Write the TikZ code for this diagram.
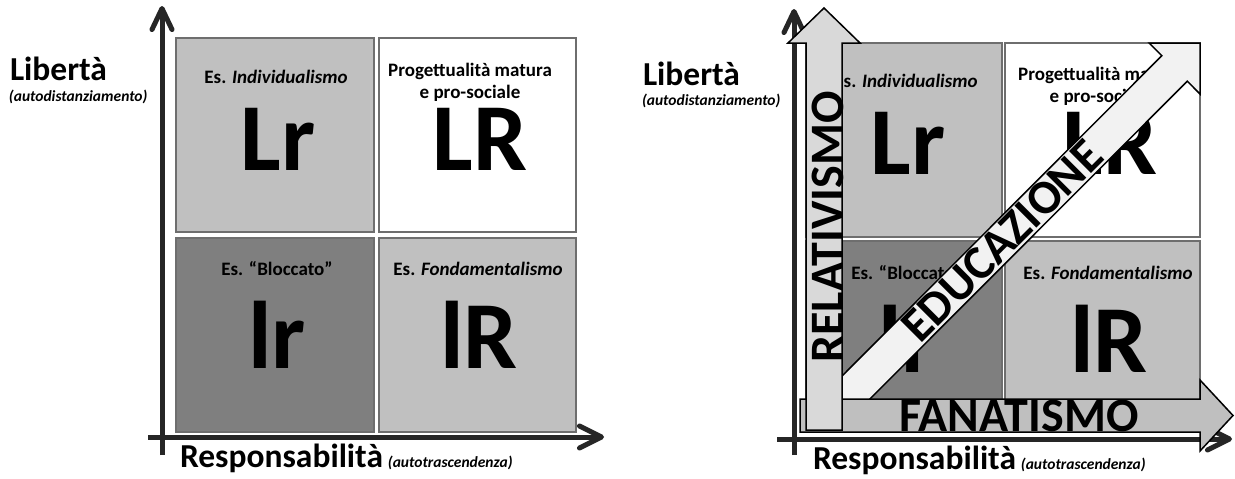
\documentclass[tikz,border=0pt]{standalone}
\usepackage{fontspec}
\setmainfont{Carlito}
\usetikzlibrary{arrows.meta}
\definecolor{boxlight}{HTML}{C0C0C0}
\definecolor{boxdark}{HTML}{7F7F7F}
\definecolor{boxline}{HTML}{6E6E6E}
\definecolor{axiscol}{HTML}{262626}
\definecolor{relfill}{HTML}{D9D9D9}
\definecolor{fanfill}{HTML}{BFBFBF}
\definecolor{edufill}{HTML}{F2F2F2}
\newcommand{\setfs}[1]{\fontsize{#1}{#1}\selectfont}
\begin{document}
\begin{tikzpicture}[x=1pt,y=-1pt,
  every node/.append style={font=\bfseries, inner sep=0pt, outer sep=0pt},
  quad/.style={draw=boxline, line width=2pt, minimum width=#1, minimum height=194pt},
  axisv/.style={draw=axiscol, line width=5pt, -{Straight Barb[length=21pt,width=20pt,round]}},
  axish/.style={draw=axiscol, line width=5pt, -{Straight Barb[length=22pt,width=22pt,round]}},
  blockarrow/.style={draw=black, line width=1.5pt, line join=miter},
  small/.style={anchor=base, font=\bfseries\setfs{19}},
  big/.style={anchor=base, font=\bfseries\setfs{96}},
  arrowtext/.style={font=\bfseries\setfs{48}},
  axlabel/.style={anchor=base west, font=\bfseries\setfs{33.5}},
  axsub/.style={anchor=base west, font=\bfseries\itshape\setfs{15.5}}
]
\useasboundingbox (0,0) rectangle (1235,479);
\fill[white] (0,0) rectangle (1235,479);

% ================= LEFT PANEL =================
\node[quad=198pt, fill=boxlight] (lTL) at (275,135) {};
\node[quad=197pt, fill=white]    (lTR) at (477,135) {};
\node[quad=198pt, fill=boxdark]  (lBL) at (275,335) {};
\node[quad=197pt, fill=boxlight] (lBR) at (477,335) {};

\node[small] (lTLt) at (276,83) {Es. \itshape Individualismo};
\node[big]   (lTLb) at (278,170) {Lr};
\node[small] (lTRt) at (470,76) {Progettualità matura};
\node[small] (lTRu) at (470,98) {e pro-sociale};
\node[big]   (lTRb) at (480,170) {LR};
\node[small] (lBLt) at (277,275) {Es. “Bloccato”};
\node[big]   (lBLb) at (277,368) {lr};
\node[small] (lBRt) at (478,275) {Es. \itshape Fondamentalismo};
\node[big]   (lBRb) at (479,368) {lR};

\coordinate (lvb) at (162,455);
\coordinate (lvt) at (162,6);
\coordinate (lhl) at (148,437);
\coordinate (lhr) at (604,437);
\draw[axisv] (lvb) -- (lvt);
\draw[axish] (lhl) -- (lhr);

\node[axlabel] (lLib) at (10,80) {Libertà};
\node[axsub] (lAut) at (9,101) {(autodistanziamento)};
\node[axlabel] (lRes) at (180,467) {Responsabilità\hspace{5pt}{\itshape\setfs{15.5}(autotrascendenza)}};

% ================= RIGHT PANEL =================
\node[quad=196pt, fill=boxlight] (rTL) at (904,140) {};
\node[quad=195pt, fill=white]    (rTR) at (1102.5,140) {};
\node[quad=196pt, fill=boxdark, minimum height=191pt] (rBL) at (904,336.5) {};
\node[quad=195pt, fill=boxlight, minimum height=191pt] (rBR) at (1102.5,336.5) {};

\node[small] (rTLt) at (906,87) {Es. \itshape Individualismo};
\node[big]   (rTLb) at (908,174) {Lr};
\node[small] (rTRt) at (1100,80) {Progettualità matura};
\node[small] (rTRu) at (1100,102) {e pro-sociale};
\node[big]   (rTRb) at (1110,174) {LR};
\node[small] (rBLt) at (907,279) {Es. “Bloccato”};
\node[big]   (rBLb) at (907,372) {lr};
\node[small] (rBRt) at (1108,279) {Es. \itshape Fondamentalismo};
\node[big]   (rBRb) at (1109,372) {lR};

% EDUCAZIONE arrow (diagonal)
\fill[edufill] (817.3,400.8) -- (1161.8,55.7) -- (1149.1,43.0) -- (1200,43) -- (1200,94) -- (1187.3,81.2) -- (842.7,426.2) -- cycle;
\draw[blockarrow] (817.3,400.8) -- (1161.8,55.7) -- (1149.1,43.0) -- (1200,43) -- (1200,94) -- (1187.3,81.2) -- (842.7,426.2);
\node[arrowtext, rotate=45] (edu) at (1002,241) {EDUCAZIONE};

% axes
\coordinate (rvb) at (794,455);
\coordinate (rvt) at (794,9);
\coordinate (rhl) at (777,439);
\coordinate (rhr) at (1232,439);
\draw[axisv] (rvb) -- (rvt);
\draw[axish] (rhl) -- (rhr);

% FANATISMO arrow
\draw[blockarrow, fill=fanfill] (800,399) -- (1200,399) -- (1200,380) -- (1233,415.5) -- (1200,451) -- (1200,432) -- (800,432) -- cycle;
\node[arrowtext] (fan) at (1019,416) {FANATISMO};

% RELATIVISMO arrow
\draw[blockarrow, fill=relfill] (806,430) -- (806,43) -- (788,43) -- (824,8) -- (860,43) -- (842,43) -- (842,430) -- cycle;
\node[arrowtext, rotate=90] (rel) at (828,227) {RELATIVISMO};

\node[axlabel] (rLib) at (643,85) {Libertà};
\node[axsub] (rAut) at (642,105) {(autodistanziamento)};
\node[axlabel] (rRes) at (813,469) {Responsabilità\hspace{5pt}{\itshape\setfs{15.5}(autotrascendenza)}};
\end{tikzpicture}
\end{document}
